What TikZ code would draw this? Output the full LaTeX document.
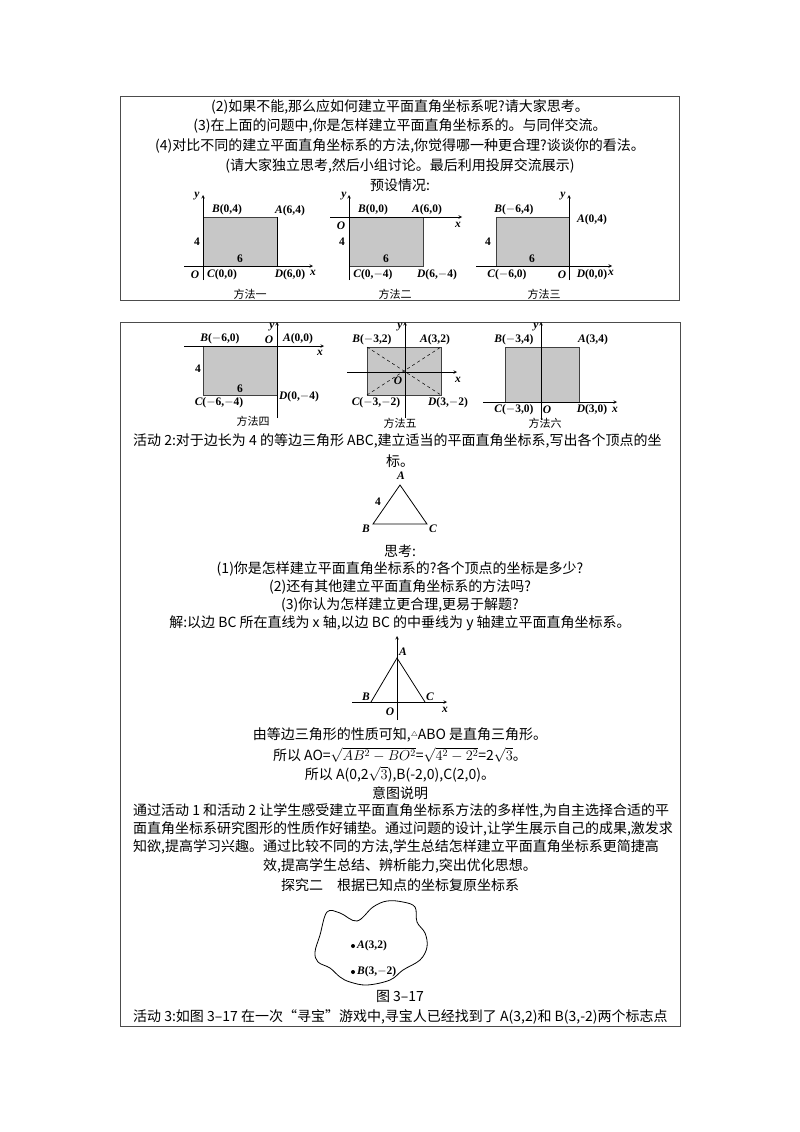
\documentclass[tikz,border=0pt]{standalone}
\usepackage{fontspec}
\setmainfont{Liberation Serif}
\newfontfamily\cjk{Noto Sans CJK SC}
\begin{document}
\begin{tikzpicture}[x=1pt,y=-1pt,
  t/.style={font=\fontsize{14}{15}\selectfont\cjk,inner sep=0pt},
  tl/.style={t,anchor=west},
  lab/.style={font=\fontsize{11.5}{12}\selectfont\bfseries,inner sep=0pt},
  figcap/.style={font=\fontsize{11}{11}\selectfont\cjk,inner sep=0pt},
  ax/.style={line width=0.6pt,-stealth},
  rect/.style={fill=black!22,draw=black!75,line width=0.6pt}]
\useasboundingbox (0,0) rectangle (800,1132);
\fill[white] (0,0) rectangle (800,1132);
\newcommand{\I}[1]{{\itshape #1}}
% boxes
\draw[black!70,line width=0.8pt] (120,96) rectangle (679,300);
\draw[black!70,line width=0.8pt] (120,322) rectangle (680,1026);
% top texts
\node[t] (t1) at (400,107) {(2)如果不能,那么应如何建立平面直角坐标系呢?请大家思考。};
\node[t] (t2) at (400,126) {(3)在上面的问题中,你是怎样建立平面直角坐标系的。与同伴交流。};
\node[t] (t3) at (400,146) {(4)对比不同的建立平面直角坐标系的方法,你觉得哪一种更合理?谈谈你的看法。};
\node[t] (t4) at (400,166) {(请大家独立思考,然后小组讨论。最后利用投屏交流展示)};
\node[t] (t5) at (400,185) {预设情况:};
% fig1
\draw[rect] (203,217) rectangle (277,266);
\draw[line width=0.9pt] (277,217)--(277,266);
\draw[ax] (184,266)--(313,266);
\draw[ax] (203,280)--(203,195);
\node[lab] (f1b) at (227,210) {\I{B}(0,4)};
\node[lab] (f1a) at (290,211) {\I{A}(6,4)};
\node[lab] (f1n4) at (197,242) {4};
\node[lab] (f1n6) at (240,259) {6};
\node[lab] (f1o) at (195,275) {\I{O}};
\node[lab] (f1c) at (222,275) {\I{C}(0,0)};
\node[lab] (f1d) at (290,275) {\I{D}(6,0)};
\node[lab] (f1x) at (313,273) {\I{x}};
\node[lab] (f1y) at (197,196) {\I{y}};
\node[figcap] (c1) at (250,294) {方法一};
% fig2
\draw[rect] (349,217) rectangle (423,266);
\draw[ax] (330,217)--(462,217);
\draw[ax] (349,280)--(349,195);
\node[lab] (f2b) at (373,210) {\I{B}(0,0)};
\node[lab] (f2a) at (427,210) {\I{A}(6,0)};
\node[lab] (f2o) at (341,226) {\I{O}};
\node[lab] (f2x) at (458,225) {\I{x}};
\node[lab] (f2n4) at (342,242) {4};
\node[lab] (f2n6) at (386,259) {6};
\node[lab] (f2c) at (373,275) {\I{C}(0,$-$4)};
\node[lab] (f2d) at (437,275) {\I{D}(6,$-$4)};
\node[lab] (f2y) at (344,196) {\I{y}};
\node[figcap] (c2) at (395,294) {方法二};
% fig3
\draw[rect] (496,217) rectangle (569,266);
\draw[ax] (476,266)--(612,266);
\draw[ax] (569,280)--(569,195);
\node[lab] (f3b) at (514,210) {\I{B}($-$6,4)};
\node[lab] (f3a) at (592,220) {\I{A}(0,4)};
\node[lab] (f3n4) at (488,242) {4};
\node[lab] (f3n6) at (532,259) {6};
\node[lab] (f3c) at (507,275) {\I{C}($-$6,0)};
\node[lab] (f3o) at (562,275) {\I{O}};
\node[lab] (f3d) at (592,275) {\I{D}(0,0)};
\node[lab] (f3x) at (611,273) {\I{x}};
\node[lab] (f3y) at (563,196) {\I{y}};
\node[figcap] (c3) at (544,294) {方法三};
% fig4
\draw[rect] (203,346) rectangle (277,395);
\draw[ax] (184,346)--(324,346);
\draw[ax] (277,418)--(277,322);
\node[lab] (f4b) at (220,339) {\I{B}($-$6,0)};
\node[lab] (f4o) at (269,340) {\I{O}};
\node[lab] (f4a) at (298,339) {\I{A}(0,0)};
\node[lab] (f4x) at (320,353) {\I{x}};
\node[lab] (f4n4) at (198,369) {4};
\node[lab] (f4n6) at (240,389) {6};
\node[lab] (f4c) at (219,403) {\I{C}($-$6,$-$4)};
\node[lab] (f4d) at (299,397) {\I{D}(0,$-$4)};
\node[lab] (f4y) at (272,327) {\I{y}};
\node[figcap] (c4) at (253,421) {方法四};
% fig5
\draw[rect] (367,347) rectangle (441,395);
\draw[dashed,line width=0.5pt] (367,347)--(441,395) (367,395)--(441,347);
\draw[ax] (347,372)--(457,372);
\draw[ax] (405,418)--(405,322);
\node[lab] (f5b) at (372,340) {\I{B}($-$3,2)};
\node[lab] (f5a) at (435,340) {\I{A}(3,2)};
\node[lab] (f5o) at (398,381) {\I{O}};
\node[lab] (f5x) at (458,380) {\I{x}};
\node[lab] (f5c) at (376,403) {\I{C}($-$3,$-$2)};
\node[lab] (f5d) at (448,403) {\I{D}(3,$-$2)};
\node[lab] (f5y) at (400,327) {\I{y}};
\node[figcap] (c5) at (400,423) {方法五};
% fig6
\draw[rect] (505,347) rectangle (579,402);
\draw[ax] (483,402)--(617,402);
\draw[ax] (541,420)--(541,322);
\node[lab] (f6b) at (514,340) {\I{B}($-$3,4)};
\node[lab] (f6a) at (593,340) {\I{A}(3,4)};
\node[lab] (f6c) at (514,410) {\I{C}($-$3,0)};
\node[lab] (f6o) at (547,410) {\I{O}};
\node[lab] (f6d) at (592,410) {\I{D}(3,0)};
\node[lab] (f6x) at (615,410) {\I{x}};
\node[lab] (f6y) at (536,327) {\I{y}};
\node[figcap] (c6) at (545,423) {方法六};
% activity 2
\node[tl] (h1) at (133,441) {活动 2:对于边长为 4 的等边三角形 ABC,建立适当的平面直角坐标系,写出各个顶点的坐};
\node[t] (h2) at (400,461) {标。};
% triangle 1
\coordinate (TA) at (400,485);
\coordinate (TB) at (373,524);
\coordinate (TC) at (427,524);
\draw[line width=0.8pt] (TA)--(TB)--(TC)--cycle;
\node[lab] (ta) at (401,476) {\I{A}};
\node[lab] (tb) at (366,529) {\I{B}};
\node[lab] (tc) at (433,529) {\I{C}};
\node[lab] (t4l) at (378,502) {4};
\node[t] (s0) at (400,551) {思考:};
\node[t] (s1) at (400,569) {(1)你是怎样建立平面直角坐标系的?各个顶点的坐标是多少?};
\node[t] (s2) at (400,587) {(2)还有其他建立平面直角坐标系的方法吗?};
\node[t] (s3) at (400,605) {(3)你认为怎样建立更合理,更易于解题?};
\node[t] (s4) at (400,623) {解:以边 BC 所在直线为 x 轴,以边 BC 的中垂线为 y 轴建立平面直角坐标系。};
% triangle 2
\coordinate (UA) at (397,658);
\coordinate (UB) at (371,702);
\coordinate (UC) at (425,702);
\draw[ax] (352,702)--(447,702);
\draw[ax] (397,720)--(397,636);
\draw[line width=0.8pt] (UB)--(UA)--(UC);
\node[lab] (ua) at (403,652) {\I{A}};
\node[lab] (ub) at (366,697) {\I{B}};
\node[lab] (uc) at (430,697) {\I{C}};
\node[lab] (uo) at (390,712) {\I{O}};
\node[lab] (ux) at (445,710) {\I{x}};
\node[t] (r1) at (400,735) {由等边三角形的性质可知,\raisebox{3pt}{$\scriptscriptstyle\triangle$}ABO 是直角三角形。};
\node[t] (r2) at (400,755) {所以 AO=$\sqrt{AB^2-BO^2}$=$\sqrt{4^2-2^2}$=2$\sqrt{3}$。};
\node[t] (r3) at (400,774) {所以 A(0,2$\sqrt{3}$),B(-2,0),C(2,0)。};
\node[t] (r4) at (400,793) {意图说明};
\node[tl] (p1) at (133,811) {通过活动 1 和活动 2 让学生感受建立平面直角坐标系方法的多样性,为自主选择合适的平};
\node[tl] (p2) at (133,829) {面直角坐标系研究图形的性质作好铺垫。通过问题的设计,让学生展示自己的成果,激发求};
\node[tl] (p3) at (133,847) {知欲,提高学习兴趣。通过比较不同的方法,学生总结怎样建立平面直角坐标系更简捷高};
\node[t] (p4) at (400,866) {效,提高学生总结、辨析能力,突出优化思想。};
\node[t] (q1) at (400,885) {探究二\quad 根据已知点的坐标复原坐标系};
% blob
\draw[line width=0.8pt] plot[smooth cycle,tension=0.6] coordinates {
 (327,912) (340,913) (357,921) (373,907) (387,901) (403,902) (415,907) (417,922)
 (425,933) (427,947) (420,960) (403,970) (390,980) (367,985) (350,982) (340,977)
 (330,968) (318,962) (315,952) (320,935)};
\fill (353,946) circle (2pt) coordinate (PA);
\fill (353,972) circle (2pt) coordinate (PB);
\node[lab,anchor=west] (pa) at (357,946) {\I{A}(3,2)};
\node[lab,anchor=west] (pb) at (357,972) {\I{B}(3,$-$2)};
\node[t] (fig) at (400,996) {图 3–17};
\node[tl] (last) at (133,1017) {活动 3:如图 3–17 在一次“寻宝”游戏中,寻宝人已经找到了 A(3,2)和 B(3,-2)两个标志点};
\end{tikzpicture}
\end{document}
